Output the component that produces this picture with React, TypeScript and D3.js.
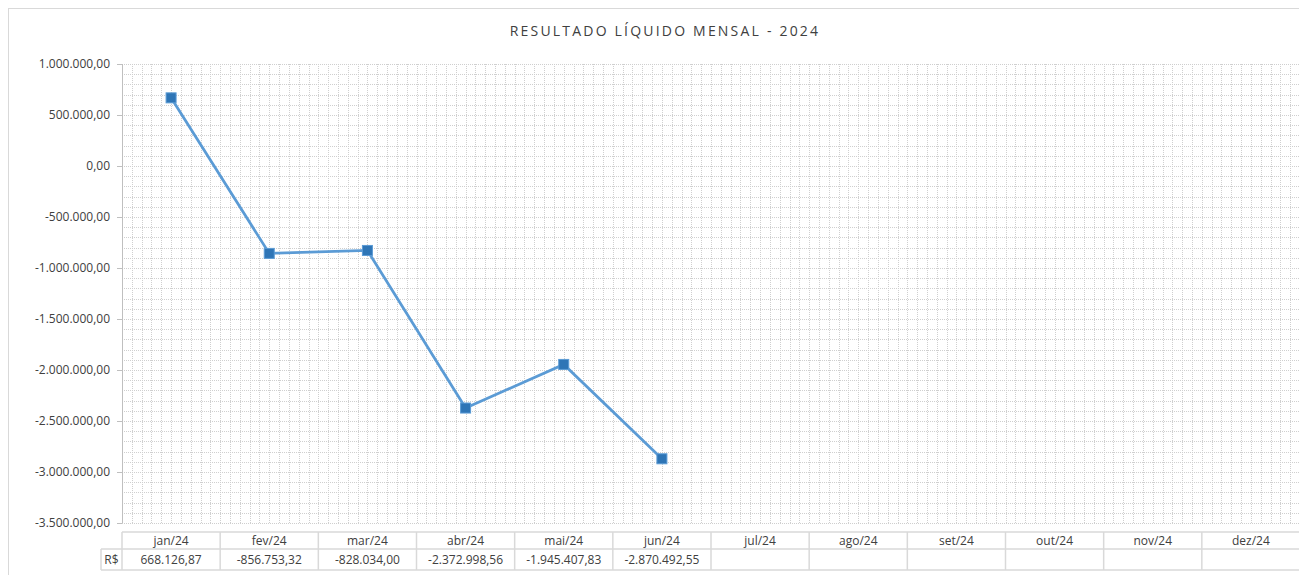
import * as d3 from "d3";
import * as React from "react";

const months = ["jan/24", "fev/24", "mar/24", "abr/24", "mai/24", "jun/24", "jul/24", "ago/24", "set/24", "out/24", "nov/24", "dez/24"];
const values = [668126.87, -856753.32, -828034.0, -2372998.56, -1945407.83, -2870492.55];
const yTicks = [1000000, 500000, 0, -500000, -1000000, -1500000, -2000000, -2500000, -3000000, -3500000];
const title = "RESULTADO LÍQUIDO MENSAL - 2024";
const rowLabel = "R$";

const W = 1299;
const H = 575;
const left = 122;
const right = 1300;
const top = 64;
const bottom = 523;

const br = d3.formatLocale({ decimal: ",", thousands: ".", grouping: [3], currency: ["R$", ""], minus: "-" });
const fmt = br.format(",.2f");

export default function App(): JSX.Element {
    const x = d3.scaleBand<string>().domain(months).range([left, right]);
    const y = d3.scaleLinear().domain([-3500000, 1000000]).range([bottom, top]);

    const line = d3.line<number>()
        .x((_, i) => x(months[i])! + x.bandwidth() / 2)
        .y(d => y(d));

    const minorY = d3.range(-3500000, 1000001, 100000);
    const minorX = d3.range(0, 12 * 10).map(i => left + i * x.bandwidth() / 10);

    const font = "Open Sans, sans-serif";
    const textCol = "#404040";
    const gridCol = "#cfcfcf";

    const tblTop = 532;
    const tblMid = 549;
    const tblBot = 570;

    return (
        <svg width={W} height={H} style={{ position: "absolute", left: 0, top: 0 }} fontFamily={font}>
            <rect x={0} y={0} width={W} height={H} fill="#fff" />
            <rect x={8.5} y={8.5} width={1300} height={600} fill="none" stroke="#d9d9d9" />
            <text x={665} y={36} textAnchor="middle" fontSize={14} letterSpacing={2.2} fill={textCol}>{title}</text>

            {/* grid */}
            <g stroke={gridCol} strokeWidth={1} strokeDasharray="1,1">
                {minorY.map(v => (
                    <line key={"h" + v} x1={left} x2={right} y1={Math.round(y(v)) + 0.5} y2={Math.round(y(v)) + 0.5} />
                ))}
                {minorX.map((px, i) => (
                    <line key={"v" + i} x1={Math.round(px) + 0.5} x2={Math.round(px) + 0.5} y1={top} y2={bottom} />
                ))}
            </g>

            {/* y axis */}
            <line x1={left + 0.5} x2={left + 0.5} y1={top} y2={bottom} stroke="#bfbfbf" />
            {yTicks.map(t => (
                <g key={t}>
                    <line x1={left - 5} x2={left} y1={Math.round(y(t)) + 0.5} y2={Math.round(y(t)) + 0.5} stroke="#bfbfbf" />
                    <text x={left - 12} y={y(t)} dy="0.35em" textAnchor="end" fontSize={12} fill={textCol}>{fmt(t)}</text>
                </g>
            ))}

            {/* series */}
            <path d={line(values) ?? ""} fill="none" stroke="#5b9bd5" strokeWidth={2.75} />
            {values.map((v, i) => (
                <rect key={i}
                    x={x(months[i])! + x.bandwidth() / 2 - 5}
                    y={y(v) - 5}
                    width={10} height={10}
                    fill="#2e75b6" stroke="#5b9bd5" strokeWidth={1} />
            ))}

            {/* data table */}
            <g stroke="#d9d9d9" strokeWidth={1.5} fill="none">
                <line x1={left} x2={right} y1={tblTop} y2={tblTop} />
                <line x1={101} x2={right} y1={tblMid} y2={tblMid} />
                <line x1={101} x2={right} y1={tblBot} y2={tblBot} />
                <line x1={101} x2={101} y1={tblMid} y2={tblBot} />
                {months.map(m => (
                    <line key={m} x1={x(m)!} x2={x(m)!} y1={tblTop} y2={tblBot} />
                ))}
            </g>
            {months.map(m => (
                <text key={m} x={x(m)! + x.bandwidth() / 2} y={(tblTop + tblMid) / 2} dy="0.35em" textAnchor="middle" fontSize={12} fill={textCol}>{m}</text>
            ))}
            <text x={111.5} y={(tblMid + tblBot) / 2} dy="0.35em" textAnchor="middle" fontSize={12} fill={textCol}>{rowLabel}</text>
            {values.map((v, i) => (
                <text key={i} x={x(months[i])! + x.bandwidth() / 2} y={(tblMid + tblBot) / 2} dy="0.35em" textAnchor="middle" fontSize={12} fill={textCol}>{fmt(v)}</text>
            ))}
        </svg>
    );
}
